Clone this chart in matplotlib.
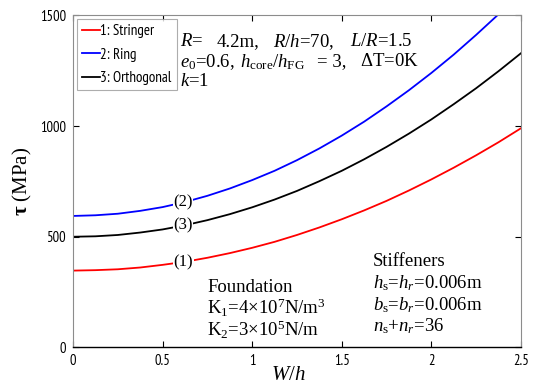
import matplotlib
matplotlib.use("Agg")
import matplotlib.pyplot as plt
import numpy as np

NARROW = ["PT Sans Narrow", "Roboto Condensed", "Liberation Sans", "DejaVu Sans"]
SERIF = "Liberation Serif"

plt.rcParams['mathtext.fontset'] = 'custom'
plt.rcParams['mathtext.rm'] = 'Liberation Serif'
plt.rcParams['mathtext.it'] = 'Liberation Serif:italic'
plt.rcParams['mathtext.bf'] = 'Liberation Serif:bold'

# Data
wh = [0.0, 0.125, 0.25, 0.375, 0.5, 0.625, 0.75, 0.875, 1.0, 1.125, 1.25,
      1.375, 1.5, 1.625, 1.75, 1.875, 2.0, 2.125, 2.25, 2.375, 2.5]
tau_stringer = [347, 349, 353, 361, 373, 387, 405, 426, 450, 477, 508,
                542, 579, 619, 662, 709, 759, 812, 868, 927, 990]
tau_ring = [594, 597, 604, 617, 634, 657, 685, 718, 756, 798, 846,
            899, 957, 1020, 1089, 1162, 1240, 1323, 1412, 1505, 1603]
tau_orth = [500, 502, 508, 519, 533, 552, 575, 602, 633, 668, 707,
            751, 798, 850, 906, 966, 1030, 1099, 1171, 1248, 1329]
series_labels = ["1: Stringer", "2: Ring", "3: Orthogonal"]
curve_tags = ["(1)", "(2)", "(3)"]
tag_x = 0.616
xticks = [0, 0.5, 1, 1.5, 2, 2.5]
yticks = [0, 500, 1000, 1500]

fig = plt.figure(figsize=(5.37, 3.86), dpi=100)
ax = fig.add_axes([0.136, 0.100, 0.834, 0.860])

colors = ["#ff0000", "#0000ff", "#000000"]
series = [tau_stringer, tau_ring, tau_orth]
for y, c, lab in zip(series, colors, series_labels):
    ax.plot(wh, y, color=c, lw=1.3, label=lab)

for y, tag in zip(series, curve_tags):
    yv = np.interp(tag_x, wh, y)
    ax.text(tag_x, yv, tag, family=SERIF, fontsize=12,
            ha="center", va="center",
            bbox=dict(boxstyle="square,pad=0.02", fc="white", ec="none"))

ax.set_xlim(0, 2.5)
ax.set_ylim(0, 1500)
ax.set_xticks(xticks)
ax.set_xticklabels([f"{v:g}" for v in xticks])
ax.set_yticks(yticks)
ax.tick_params(direction="in", top=True, right=True, length=4, width=0.8,
               labelsize=10.5, pad=5)
for lab in ax.get_xticklabels() + ax.get_yticklabels():
    lab.set_family(NARROW)
for s in ["left", "top", "right"]:
    ax.spines[s].set_color("#8c8c8c")
    ax.spines[s].set_linewidth(0.8)
ax.spines["bottom"].set_color("black")
ax.spines["bottom"].set_linewidth(1.0)

ax.set_ylabel(r"$\mathbf{\tau}$ (MPa)", family=SERIF, fontsize=15, labelpad=4)
ax.set_xlabel(r"$W/h$", fontsize=15)
ax.xaxis.set_label_coords(0.48, -0.05)

leg = ax.legend(loc="upper left", bbox_to_anchor=(0.0, 1.0),
                prop={"family": NARROW, "size": 10.8},
                frameon=True, fancybox=False, edgecolor="#999999",
                handlelength=1.2, handletextpad=0.0, borderpad=0.35,
                labelspacing=0.62, borderaxespad=0.25)
leg.get_frame().set_linewidth(0.8)

tf = dict(family=SERIF, fontsize=13.5, transform=fig.transFigure, va="center")
H = 386.0
W = 537.0
def put(x, y, s, **kw):
    d = dict(tf); d.update(kw)
    fig.text(x / W, 1 - y / H, s, **d)

put(180, 42, r"$R$=")
put(217, 42, "4.2m,")
put(273, 42, r"$R/h$=70,")
put(350, 42, r"$L/R$=1.5")
put(180, 62, r"$e_0$=0.6,")
put(240, 62, r"$h_{\rm core}/h_{\rm FG}$")
put(317, 62, "= 3,")
put(360, 62, r"$\Delta$T=0K")
put(180, 82, r"$k$=1")

put(207, 287, "Foundation")
put(207, 308, r"K$_1$=4$\times$10$^7$N/m$^3$")
put(207, 330, r"K$_2$=3$\times$10$^5$N/m")

put(373, 261, "Stiffeners")
put(373, 283, r"$h_{\rm s}$=$h_r$=0.006m")
put(373, 305, r"$b_{\rm s}$=$b_r$=0.006m")
put(373, 326, r"$n_{\rm s}$+$n_r$=36")

fig.savefig("out.png", dpi=100)
